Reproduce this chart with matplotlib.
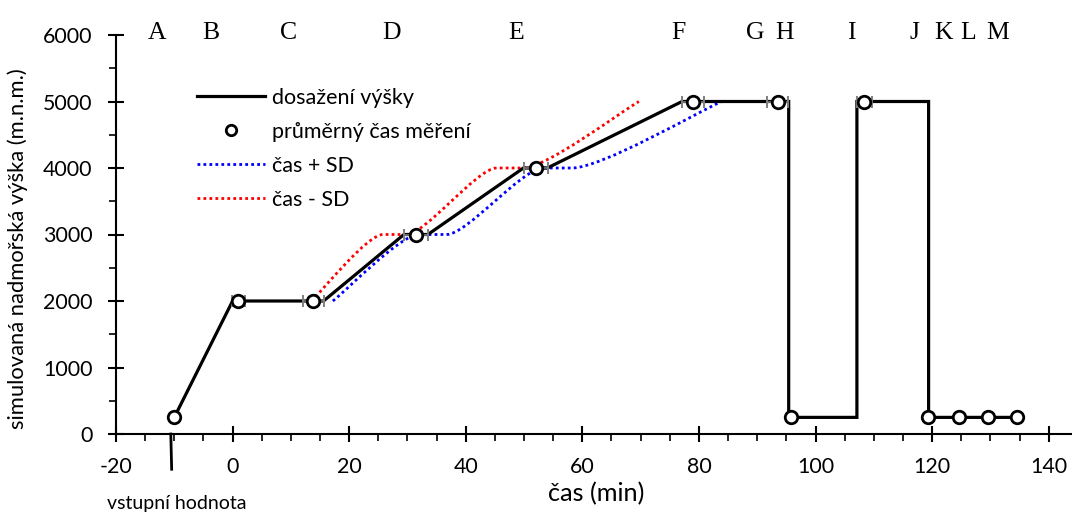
import numpy as np
import matplotlib
matplotlib.use('Agg')
import matplotlib.pyplot as plt
from matplotlib.path import Path
from matplotlib.patches import PathPatch
from matplotlib.lines import Line2D
from matplotlib.ticker import MultipleLocator

# ---- data ----
line_t = [-10, 0, 15.6, 29.4, 33.5, 49.9, 54.0, 77.1, 95.4, 95.4, 107.1, 107.1, 119.4, 119.4, 134.6]
line_h = [250, 2000, 2000, 3000, 3000, 4000, 4000, 5000, 5000, 250, 250, 5000, 5000, 250, 250]
mean_t = [-10, 1.0, 13.8, 31.4, 52.0, 79.0, 93.5, 95.8, 108.4, 119.3, 124.6, 129.6, 134.6]
mean_h = [250, 2000, 2000, 3000, 4000, 5000, 5000, 250, 5000, 250, 250, 250, 250]
mean_err = [0, 1.1, 1.8, 2.05, 2.05, 1.95, 1.85, 0, 1.25, 0, 0, 0, 0]
plus_t = [17.2, 32.0, 36.7, 53.3, 58.2, 83.9]
plus_h = [2000, 3000, 3000, 4000, 4000, 5000]
minus_t = [13.5, 25.8, 29.8, 45.3, 49.8, 69.7]
minus_h = [2000, 3000, 3000, 4000, 4000, 5000]
phase_labels = ["A", "B", "C", "D", "E", "F", "G", "H", "I", "J", "K", "L", "M"]
phase_t = [-13.0, -3.8, 9.6, 27.2, 48.7, 76.5, 89.6, 94.6, 106.2, 116.9, 121.9, 126.2, 131.3]
input_t = -10.6
legend_labels = ['dosažení výšky', 'průměrný čas měření', 'čas + SD', 'čas - SD']

SANS = ['Lato', 'DejaVu Sans']
plt.rcParams['font.family'] = SANS
plt.rcParams['axes.unicode_minus'] = False


def smooth_path(t, h):
    P = np.column_stack([t, h]).astype(float)
    n = len(P)
    m = np.zeros_like(P)
    for i in range(n):
        a = P[i - 1] if i > 0 else P[i]
        b = P[i + 1] if i < n - 1 else P[i]
        m[i] = (b - a) / 2.0
        flat_prev = i > 0 and P[i - 1, 1] == P[i, 1]
        flat_next = i < n - 1 and P[i + 1, 1] == P[i, 1]
        if flat_prev or flat_next:
            m[i, 1] = 0.0
    verts = [P[0]]
    codes = [Path.MOVETO]
    for i in range(n - 1):
        verts += [P[i] + m[i] / 3.0, P[i + 1] - m[i + 1] / 3.0, P[i + 1]]
        codes += [Path.CURVE4] * 3
    return Path(verts, codes)


W, H = 1072, 514
fig = plt.figure(figsize=(W / 100, H / 100), dpi=100)
renderer = fig.canvas.get_renderer()


def measure(s, size, rotation=0):
    t = fig.text(0, 0, s, fontsize=size, rotation=rotation)
    bb = t.get_window_extent(renderer)
    t.remove()
    return bb.width, bb.height


def fit_size(s, target_w, base=14.0):
    w, _ = measure(s, base)
    return base * target_w / w


tick_fs = fit_size('6000', 50)
leg_fs = fit_size(legend_labels[0], 142)
xlab_fs = fit_size('čas (min)', 97)
ylab_fs = fit_size('simulovaná nadmořská výška (m.n.m.)', 362)
note_fs = fit_size('vstupní hodnota', 140)

ax = fig.add_axes([116 / W, 1 - 434 / H, (W - 116) / W, (434 - 35) / H])
ax.set_xlim(-20, 144)
ax.set_ylim(0, 6000)

dot = (0, (1, 1.15))
dot_lw = 2.0
ax.add_patch(PathPatch(smooth_path(plus_t, plus_h), fill=False, edgecolor='#0000FF',
                       lw=dot_lw, linestyle=dot, capstyle='butt', zorder=2))
ax.add_patch(PathPatch(smooth_path(minus_t, minus_h), fill=False, edgecolor='#FF0000',
                       lw=dot_lw, linestyle=dot, capstyle='butt', zorder=2))

ax.plot(line_t, line_h, color='black', lw=2.3, zorder=3, solid_joinstyle='miter')

et = [t for t, e in zip(mean_t, mean_err) if e > 0]
eh = [h for h, e in zip(mean_h, mean_err) if e > 0]
ee = [e for e in mean_err if e > 0]
ax.errorbar(et, eh, xerr=ee, fmt='none', ecolor='#7f7f7f', elinewidth=1.2,
            capsize=4.5, capthick=1.4, zorder=4)
ax.plot(mean_t, mean_h, ls='none', marker='o', ms=9, mfc='white', mec='black',
        mew=2.0, zorder=5)

# input value marker
ax.plot([input_t, input_t + 0.15], [0, -530], color='black', lw=2.0, clip_on=False, zorder=5)
fig.text(107 / W, 1 - 503 / H, 'vstupní hodnota', fontsize=note_fs, ha='left', va='center')

for lab, t in zip(phase_labels, phase_t):
    ax.text(t, 5940, lab, fontsize=18.5, family=['Liberation Serif', 'DejaVu Serif'],
            ha='center', va='baseline', clip_on=False)

for s in ['top', 'right']:
    ax.spines[s].set_visible(False)
for s in ['left', 'bottom']:
    ax.spines[s].set_linewidth(1.5)

ax.xaxis.set_major_locator(MultipleLocator(20))
ax.xaxis.set_minor_locator(MultipleLocator(5))
ax.yaxis.set_major_locator(MultipleLocator(1000))
ax.yaxis.set_minor_locator(MultipleLocator(500))
ax.tick_params(which='major', direction='inout', length=12, width=1.5,
               labelsize=tick_fs)
ax.tick_params(which='minor', direction='out', length=5, width=1.2)
ax.tick_params(axis='x', which='major', pad=10.5)
ax.tick_params(axis='y', which='major', pad=11)

ax.set_xlabel('čas (min)', fontsize=xlab_fs)
ax.xaxis.set_label_coords((596 - 116) / (W - 116), -(494 - 434) / (434 - 35), transform=ax.transAxes)
ax.xaxis.label.set_va('center')
ax.set_ylabel('simulovaná nadmořská výška (m.n.m.)', fontsize=ylab_fs)
ax.yaxis.set_label_coords(-(116 - 18) / (W - 116), (434 - 249) / (434 - 35), transform=ax.transAxes)
ax.yaxis.label.set_va('center')

handles = [
    Line2D([], [], color='black', lw=2.3),
    Line2D([], [], ls='none', marker='o', ms=7.5, mfc='white', mec='black', mew=2.0),
    Line2D([], [], color='#0000FF', lw=dot_lw, linestyle=dot, dash_capstyle='butt'),
    Line2D([], [], color='#FF0000', lw=dot_lw, linestyle=dot, dash_capstyle='butt'),
]
leg_px = leg_fs * 100 / 72
_, row_h = measure(legend_labels[1], leg_fs)
ax.legend(handles, legend_labels, loc='upper left',
          bbox_to_anchor=(197 / W, 1 - (98 - row_h / 2) / H),
          bbox_transform=fig.transFigure, frameon=False, fontsize=leg_fs,
          handlelength=68 / leg_px, handletextpad=7 / leg_px,
          labelspacing=(34 - row_h) / leg_px,
          borderpad=0, borderaxespad=0)

fig.savefig('out.png', dpi=100)
